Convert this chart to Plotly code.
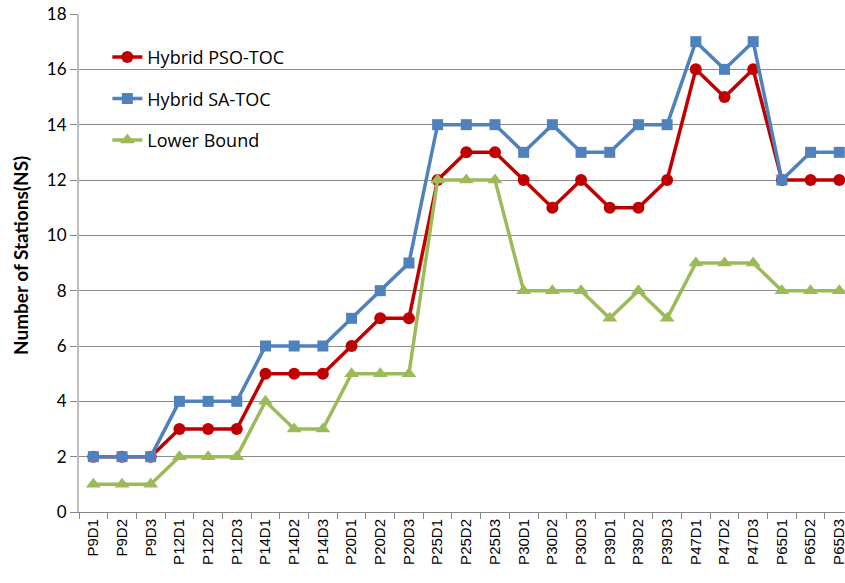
import plotly.graph_objects as go

categories = ["P9D1", "P9D2", "P9D3", "P12D1", "P12D2", "P12D3", "P14D1", "P14D2", "P14D3",
              "P20D1", "P20D2", "P20D3", "P25D1", "P25D2", "P25D3", "P30D1", "P30D2", "P30D3",
              "P39D1", "P39D2", "P39D3", "P47D1", "P47D2", "P47D3", "P65D1", "P65D2", "P65D3"]
pso_toc = [2, 2, 2, 3, 3, 3, 5, 5, 5, 6, 7, 7, 12, 13, 13, 12, 11, 12, 11, 11, 12, 16, 15, 16, 12, 12, 12]
sa_toc = [2, 2, 2, 4, 4, 4, 6, 6, 6, 7, 8, 9, 14, 14, 14, 13, 14, 13, 13, 14, 14, 17, 16, 17, 12, 13, 13]
lower_bound = [1, 1, 1, 2, 2, 2, 4, 3, 3, 5, 5, 5, 12, 12, 12, 8, 8, 8, 7, 8, 7, 9, 9, 9, 8, 8, 8]
y_ticks = [0, 2, 4, 6, 8, 10, 12, 14, 16, 18]

fig = go.Figure()
fig.add_trace(go.Scatter(x=categories, y=pso_toc, name="Hybrid PSO-TOC", mode="lines+markers",
                         line=dict(color="#C00000", width=3.5),
                         marker=dict(symbol="circle", size=12, color="#C00000"),
                         legendgroup="a"))
fig.add_trace(go.Scatter(x=categories, y=sa_toc, name="Hybrid SA-TOC", mode="lines+markers",
                         line=dict(color="#4F81BD", width=3.5),
                         marker=dict(symbol="square", size=11, color="#4F81BD"),
                         legendgroup="b"))
fig.add_trace(go.Scatter(x=categories, y=lower_bound, name="Lower Bound", mode="lines+markers",
                         line=dict(color="#9BBB59", width=3.5),
                         marker=dict(symbol="triangle-up", size=13, color="#9BBB59"),
                         legendgroup="c"))

ML = 79
PW = 766
fig.add_annotation(text="<b>Number of Stations(NS)</b>", textangle=-90,
                   xref="paper", yref="paper", x=(20 - ML) / PW, y=0.514,
                   xanchor="center", yanchor="middle", showarrow=False,
                   font=dict(family="Lato", size=19, color="#000000"))

fig.update_layout(
    width=845, height=583,
    margin=dict(l=ML, r=845 - ML - PW, t=14, b=71),
    plot_bgcolor="white", paper_bgcolor="white",
    showlegend=True,
    legend=dict(x=0.037, y=0.95, xanchor="left", yanchor="top",
                font=dict(family="Open Sans", size=18, color="#000000"),
                bgcolor="rgba(0,0,0,0)", tracegroupgap=15, itemwidth=30),
    xaxis=dict(type="category", categoryorder="array", categoryarray=categories,
               range=[-0.5, 26.2], tickangle=-90, tickson="boundaries", automargin=False,
               ticks="outside", ticklen=6, tickcolor="#868686",
               showline=True, linecolor="#868686", linewidth=1,
               showgrid=False, tickfont=dict(family="Liberation Sans", size=15, color="#000000")),
    yaxis=dict(range=[0, 18], tickvals=y_ticks, ticks="outside", ticklen=7, tickcolor="#868686",
               showline=True, linecolor="#BFBFBF", linewidth=2, automargin=False,
               showgrid=True, gridcolor="#8C8C8C", gridwidth=1, zeroline=False,
               tickfont=dict(family="Lato", size=17, color="#000000")),
)

fig.write_html("out.html", config={"displayModeBar": False},
               post_script="document.body.style.margin='0';")
